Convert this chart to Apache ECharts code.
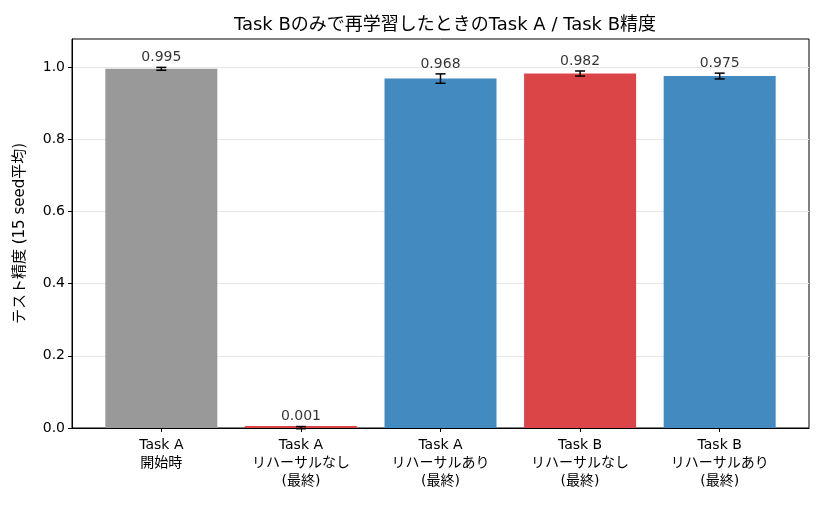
<!DOCTYPE html>
<html>
<head>
<meta charset="utf-8">
<script src="https://cdn.jsdelivr.net/npm/echarts@6/dist/echarts.min.js"></script>
<style>
  html, body { margin: 0; padding: 0; background: #fff; }
  #chart { width: 825px; height: 505px; }
</style>
</head>
<body>
<div id="chart"></div>
<script>
// data
const categories = [
  'Task A\n開始時',
  'Task A\nリハーサルなし\n(最終)',
  'Task A\nリハーサルあり\n(最終)',
  'Task B\nリハーサルなし\n(最終)',
  'Task B\nリハーサルあり\n(最終)'
];
const meanValues = [0.995, 0.001, 0.968, 0.982, 0.975];
const errValues = [0.004, 0.003, 0.013, 0.007, 0.008];
const barColors = ['#999999', '#dc4548', '#428bc1', '#dc4548', '#428bc1'];
const yTicks = [0, 0.2, 0.4, 0.6, 0.8, 1.0];

const font = "'DejaVu Sans', 'Noto Sans CJK JP', sans-serif";
const chart = echarts.init(document.getElementById('chart'));

const barData = meanValues.map((v, i) => ({
  value: [i, v],
  itemStyle: { color: barColors[i] }
}));
const errData = meanValues.map((v, i) => [i, v - errValues[i], v + errValues[i]]);
const labelData = meanValues.map((v, i) => [i, v + errValues[i]]);

chart.setOption({
  animation: false,
  backgroundColor: '#fff',
  title: {
    text: 'Task Bのみで再学習したときのTask A / Task B精度',
    left: 440,
    top: 11,
    textAlign: 'center',
    textStyle: { fontFamily: font, fontSize: 18, fontWeight: 'normal', color: '#000' }
  },
  grid: {
    left: 72, right: 16, top: 39, bottom: 77,
    show: true, borderColor: '#000', borderWidth: 1, backgroundColor: 'transparent'
  },
  xAxis: {
    type: 'value',
    min: -0.64,
    max: 4.64,
    axisLine: { show: true, onZero: false, lineStyle: { color: '#000', width: 1 } },
    axisTick: { show: true, length: 4, lineStyle: { color: '#000' }, customValues: [0, 1, 2, 3, 4] },
    axisLabel: {
      customValues: [0, 1, 2, 3, 4],
      formatter: (v) => categories[Math.round(v)],
      fontFamily: font, fontSize: 14, color: '#000', lineHeight: 18, margin: 8
    },
    splitLine: { show: false }
  },
  yAxis: {
    type: 'value',
    min: 0,
    max: 1.0776,
    name: 'テスト精度 (15 seed平均)',
    nameLocation: 'middle',
    nameGap: 44,
    nameTextStyle: { fontFamily: font, fontSize: 15, color: '#000' },
    axisLine: { show: true, onZero: false, lineStyle: { color: '#000', width: 1 } },
    axisTick: { show: true, length: 4, lineStyle: { color: '#000' }, customValues: yTicks },
    axisLabel: {
      customValues: yTicks,
      formatter: (v) => v.toFixed(1),
      fontFamily: font, fontSize: 14, color: '#000', margin: 7
    },
    splitLine: { show: true, lineStyle: { color: '#e6e6e6', width: 1 } }
  },
  series: [
    {
      type: 'bar',
      data: barData,
      barWidth: 112,
      barMinHeight: 2,
      z: 2
    },
    {
      type: 'custom',
      data: errData,
      z: 5,
      renderItem: (params, api) => {
        const x = api.value(0);
        const lo = api.coord([x, api.value(1)]);
        const hi = api.coord([x, api.value(2)]);
        const cap = 5;
        const style = { stroke: '#000', lineWidth: 1.5 };
        return {
          type: 'group',
          children: [
            { type: 'line', shape: { x1: lo[0], y1: lo[1], x2: hi[0], y2: hi[1] }, style },
            { type: 'line', shape: { x1: lo[0] - cap, y1: lo[1], x2: lo[0] + cap, y2: lo[1] }, style },
            { type: 'line', shape: { x1: hi[0] - cap, y1: hi[1], x2: hi[0] + cap, y2: hi[1] }, style }
          ]
        };
      }
    },
    {
      type: 'scatter',
      data: labelData,
      symbolSize: 0,
      silent: true,
      z: 6,
      label: {
        show: true,
        position: 'top',
        distance: 3,
        formatter: (p) => meanValues[p.dataIndex].toFixed(3),
        fontFamily: font, fontSize: 14, color: '#000'
      }
    }
  ]
});
</script>
</body>
</html>
